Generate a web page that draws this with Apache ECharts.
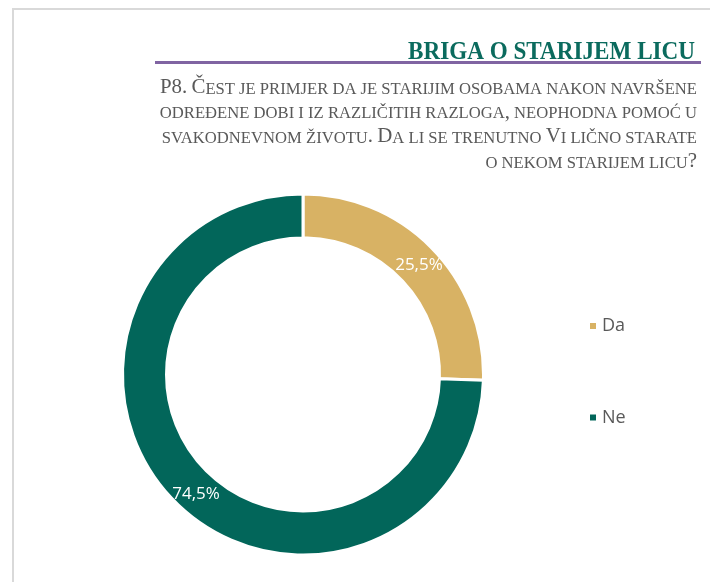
<!DOCTYPE html>
<html>
<head>
<meta charset="utf-8">
<script src="https://cdn.jsdelivr.net/npm/echarts@6/dist/echarts.min.js"></script>
<style>
  html, body { margin: 0; padding: 0; background: #fff; }
  #main { width: 710px; height: 582px; }
</style>
</head>
<body>
<div id="main"></div>
<script>
var categories = ['Da', 'Ne'];
var values = [25.5, 74.5];
var colors = ['#D8B264', '#02665A'];
var titleText = 'BRIGA O STARIJEM LICU';
var questionLines = [
  'P8. Čest je primjer da je starijim osobama nakon navršene',
  'određene dobi i iz različitih razloga, neophodna pomoć u',
  'svakodnevnom životu. Da li se trenutno Vi lično starate',
  'o nekom starijem licu?'
];

// word-style small caps: lower case -> small upper case, rest full size
function smallCaps(str) {
  var out = '', cur = null, buf = '';
  for (var i = 0; i < str.length; i++) {
    var ch = str[i];
    var kind = (ch !== ch.toUpperCase() || ch === ' ') ? 's' : 'b';
    if (kind !== cur && buf) { out += '{' + cur + '|' + buf + '}'; buf = ''; }
    cur = kind;
    buf += ch.toUpperCase();
  }
  if (buf) out += '{' + cur + '|' + buf + '}';
  return out;
}

var graphics = [
  { type: 'line', shape: { x1: 12, y1: 9, x2: 710, y2: 9 }, style: { stroke: '#D9D9D9', lineWidth: 2 } },
  { type: 'line', shape: { x1: 13, y1: 8, x2: 13, y2: 582 }, style: { stroke: '#D9D9D9', lineWidth: 2 } },
  { type: 'line', shape: { x1: 155, y1: 62.5, x2: 701, y2: 62.5 }, style: { stroke: '#8064A2', lineWidth: 3 } },
  { type: 'text', x: 695, y: 65.5, scaleX: 0.89, style: {
      text: titleText, align: 'right', verticalAlign: 'bottom',
      font: 'bold 26px "Liberation Serif"', fill: '#0B6B5E' } }
];
var baseY = 98;
questionLines.forEach(function (line, i) {
  graphics.push({
    type: 'text', x: 697, y: baseY + i * 24.8, scaleX: 0.95,
    style: {
      text: smallCaps(line), align: 'right', verticalAlign: 'bottom', fill: '#595959',
      rich: {
        b: { fontFamily: 'Liberation Serif', fontSize: 22, lineHeight: 22, verticalAlign: 'bottom', align: 'right', color: '#595959' },
        s: { fontFamily: 'Liberation Serif', fontSize: 17.5, lineHeight: 22, verticalAlign: 'bottom', align: 'right', color: '#595959' }
      }
    }
  });
});

var myChart = echarts.init(document.getElementById('main'));
myChart.setOption({
  animation: false,
  textStyle: { fontFamily: '"Open Sans", sans-serif' },
  color: colors,
  legend: {
    orient: 'vertical', left: 588, top: 317, padding: 0,
    icon: 'rect', itemWidth: 8, itemHeight: 8, itemGap: 73.5,
    textStyle: { fontSize: 18, lineHeight: 18, color: '#595959', fontFamily: '"Open Sans", sans-serif' },
    data: categories
  },
  graphic: graphics,
  series: [{
    type: 'pie',
    center: [303, 374.5],
    radius: [136.5, 180.5],
    startAngle: 90,
    clockwise: true,
    itemStyle: { borderColor: '#fff', borderWidth: 3 },
    label: {
      show: true, position: 'inside', color: '#fff', fontSize: 17,
      formatter: function (p) { return p.value.toFixed(1).replace('.', ',') + '%'; }
    },
    labelLayout: function (params) {
      return params.dataIndex === 1 ? { dx: 9, dy: 7 } : { dy: 3 };
    },
    labelLine: { show: false },
    emphasis: { disabled: true },
    data: categories.map(function (c, i) { return { name: c, value: values[i] }; })
  }]
});
</script>
</body>
</html>
